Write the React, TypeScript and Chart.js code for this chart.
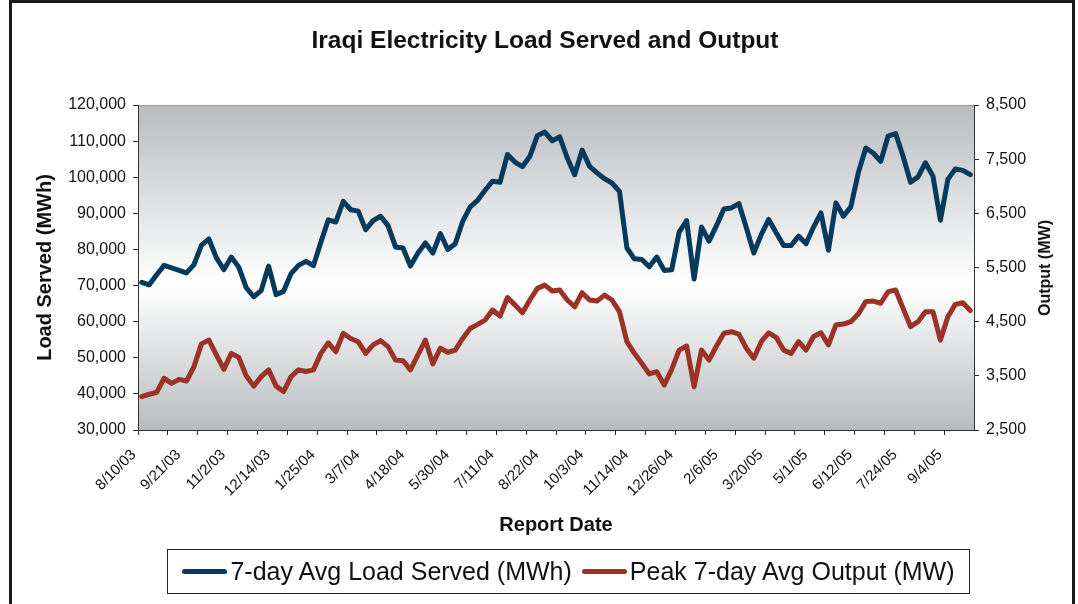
import React, { useEffect, useRef } from 'react';
import { Chart, registerables } from 'chart.js';

Chart.register(...registerables);

const FONT = "'Liberation Sans', Arial, Helvetica, sans-serif";
const BLUE = '#053a5c';
const RED = '#9c3226';

// Tick labels shown on the category axis (every 6th weekly report)
const tickLabels = [
  '8/10/03', '9/21/03', '11/2/03', '12/14/03', '1/25/04', '3/7/04', '4/18/04',
  '5/30/04', '7/11/04', '8/22/04', '10/3/04', '11/14/04', '12/26/04', '2/6/05',
  '3/20/05', '5/1/05', '6/12/05', '7/24/05', '9/4/05',
];

// 7-day Avg Load Served (MWh), weekly
const loadServed = [
  70900, 70200, 73000, 75600, 74900, 74200, 73500, 75800, 81200, 82900,
  77700, 74400, 77900, 75100, 69400, 66900, 68600, 75400, 67500, 68400,
  73300, 75600, 76700, 75500, 82000, 88200, 87600, 93300, 91000, 90600,
  85500, 88000, 89200, 86600, 80700, 80400, 75400, 79000, 81800, 79000,
  84400, 80000, 81600, 87800, 91800, 93600, 96400, 98900, 98600, 106300,
  104200, 102900, 105800, 111500, 112500, 110100, 111200, 105400, 100700, 107500,
  103000, 101200, 99600, 98400, 96100, 80400, 77400, 77200, 75200, 77900,
  74200, 74400, 84800, 88000, 71800, 86200, 82300, 86600, 91200, 91500,
  92700, 86000, 79000, 84100, 88300, 84600, 81100, 81100, 83700, 81600,
  86200, 90100, 79800, 92900, 89200, 91800, 101200, 108100, 106700, 104400,
  111400, 112100, 105800, 98600, 100100, 104000, 100300, 88100, 99400, 102300,
  101900, 100700,
];

// Peak 7-day Avg Output (MW), weekly
const peakOutput = [
  3115, 3160, 3195, 3455, 3360, 3435, 3405, 3670, 4090, 4160,
  3885, 3620, 3915, 3840, 3500, 3310, 3485, 3610, 3310, 3210,
  3485, 3610, 3580, 3610, 3915, 4110, 3945, 4285, 4190, 4130,
  3915, 4070, 4150, 4040, 3790, 3780, 3610, 3885, 4160, 3720,
  4010, 3935, 3975, 4190, 4375, 4450, 4530, 4715, 4605, 4945,
  4810, 4665, 4900, 5115, 5175, 5065, 5085, 4900, 4775, 5035,
  4900, 4880, 4990, 4900, 4685, 4130, 3915, 3730, 3535, 3575,
  3330, 3620, 3975, 4050, 3300, 3975, 3790, 4050, 4285, 4315,
  4270, 4010, 3825, 4130, 4295, 4210, 3975, 3915, 4130, 3975,
  4225, 4295, 4070, 4440, 4455, 4500, 4640, 4870, 4880, 4840,
  5055, 5085, 4745, 4410, 4500, 4685, 4685, 4160, 4590, 4820,
  4850, 4705,
];

// Weekly report dates starting 8/10/03
const START = Date.UTC(2003, 7, 10);
const reportDates = loadServed.map((_, i) => {
  const d = new Date(START + i * 7 * 86400000);
  return `${d.getUTCMonth() + 1}/${d.getUTCDate()}/${String(d.getUTCFullYear()).slice(2)}`;
});

const plotBackground = {
  id: 'plotBackground',
  beforeDraw(chart: any) {
    const { ctx, chartArea: a } = chart;
    const g = ctx.createLinearGradient(0, a.top, 0, a.bottom);
    g.addColorStop(0, '#b8bcbf');
    g.addColorStop(0.55, '#ffffff');
    g.addColorStop(1, '#b8bcbf');
    ctx.save();
    ctx.fillStyle = g;
    ctx.fillRect(a.left, a.top, a.right - a.left, a.bottom - a.top);
    ctx.strokeStyle = '#999999';
    ctx.lineWidth = 1;
    ctx.beginPath();
    ctx.moveTo(a.left, a.top + 0.5);
    ctx.lineTo(a.right, a.top + 0.5);
    ctx.stroke();
    ctx.restore();
  },
};

export default function App() {
  const canvasRef = useRef<HTMLCanvasElement | null>(null);

  useEffect(() => {
    if (!canvasRef.current) return;
    const chart = new Chart(canvasRef.current, {
      type: 'line',
      data: {
        labels: reportDates,
        datasets: [
          {
            label: '7-day Avg Load Served (MWh)',
            data: loadServed,
            yAxisID: 'y',
            borderColor: BLUE,
            backgroundColor: BLUE,
            borderWidth: 5,
            pointRadius: 0,
            tension: 0,
            borderJoinStyle: 'round',
            borderCapStyle: 'round',
          },
          {
            label: 'Peak 7-day Avg Output (MW)',
            data: peakOutput,
            yAxisID: 'y1',
            borderColor: RED,
            backgroundColor: RED,
            borderWidth: 5,
            pointRadius: 0,
            tension: 0,
            borderJoinStyle: 'round',
            borderCapStyle: 'round',
          },
        ],
      },
      options: {
        responsive: false,
        animation: false,
        devicePixelRatio: 1,
        locale: 'en-US',
        layout: { padding: { top: 105, left: 0, right: 0, bottom: 0 } },
        plugins: {
          legend: { display: false },
          title: { display: false },
          tooltip: { enabled: false },
        },
        scales: {
          x: {
            type: 'category',
            offset: true,
            grid: {
              display: true,
              drawOnChartArea: false,
              drawTicks: true,
              tickLength: 5,
              offset: true,
              tickColor: (c: any) => (c.index % 4 === 0 ? '#333333' : 'rgba(0,0,0,0)'),
            },
            border: { display: true, color: '#333333', width: 1 },
            ticks: {
              autoSkip: false,
              minRotation: 45,
              maxRotation: 45,
              padding: 11,
              labelOffset: -8,
              color: '#111111',
              font: { family: FONT, size: 15 },
              callback: (_v: any, index: number) =>
                tickLabels.includes(reportDates[index]) ? reportDates[index] : '',
            },
            title: {
              display: true,
              text: 'Report Date',
              color: '#111111',
              font: { family: FONT, size: 20, weight: 'bold' },
              padding: { top: 0, bottom: 67 },
            },
            afterFit: (s: any) => {
              s.height = 174;
            },
          },
          y: {
            position: 'left',
            min: 30000,
            max: 120000,
            ticks: {
              stepSize: 10000,
              padding: 7,
              color: '#111111',
              font: { family: FONT, size: 16 },
            },
            grid: { display: true, drawOnChartArea: false, tickLength: 5, tickColor: '#333333' },
            border: { display: true, color: '#333333', width: 1 },
            title: {
              display: true,
              text: 'Load Served (MWh)',
              color: '#111111',
              font: { family: FONT, size: 20, weight: 'bold' },
              padding: { top: 33, bottom: 0 },
            },
            afterFit: (s: any) => {
              s.width = 138;
            },
          },
          y1: {
            position: 'right',
            min: 2500,
            max: 8500,
            ticks: {
              stepSize: 1000,
              padding: 7,
              color: '#111111',
              font: { family: FONT, size: 16 },
            },
            grid: { display: true, drawOnChartArea: false, tickLength: 5, tickColor: '#333333' },
            border: { display: true, color: '#333333', width: 1 },
            afterFit: (s: any) => {
              s.width = 104;
            },
          },
        },
      } as any,
      plugins: [plotBackground],
    });
    return () => chart.destroy();
  }, []);

  const legendLine = (color: string) => (
    <span
      style={{
        display: 'inline-block',
        width: 45,
        height: 5,
        borderRadius: 3,
        background: color,
        marginRight: 3,
      }}
    />
  );

  return (
    <div
      style={{
        position: 'absolute',
        left: 0,
        top: 0,
        width: 1078,
        height: 604,
        overflow: 'hidden',
        background: '#ffffff',
        fontFamily: FONT,
        color: '#111111',
      }}
    >
      <div
        style={{
          position: 'absolute',
          left: 9,
          top: 0,
          width: 1066,
          height: 640,
          boxSizing: 'border-box',
          border: '3px solid #1a1a1a',
        }}
      />
      <canvas
        ref={canvasRef}
        width={1078}
        height={604}
        style={{ position: 'absolute', left: 0, top: 0, width: 1078, height: 604 }}
      />
      <div
        style={{
          position: 'absolute',
          left: 545,
          top: 26,
          transform: 'translateX(-50%)',
          whiteSpace: 'nowrap',
          fontSize: 24.5,
          lineHeight: '28px',
          fontWeight: 'bold',
        }}
      >
        Iraqi Electricity Load Served and Output
      </div>
      <div
        style={{
          position: 'absolute',
          left: 1045,
          top: 268,
          transform: 'translate(-50%, -50%) rotate(-90deg)',
          whiteSpace: 'nowrap',
          fontSize: 16,
          lineHeight: '20px',
          fontWeight: 'bold',
        }}
      >
        Output (MW)
      </div>
      <div
        style={{
          position: 'absolute',
          left: 167,
          top: 549,
          width: 803,
          height: 45,
          boxSizing: 'border-box',
          border: '1px solid #222222',
          display: 'flex',
          alignItems: 'center',
          justifyContent: 'center',
          fontSize: 25,
          whiteSpace: 'nowrap',
        }}
      >
        {legendLine(BLUE)}
        <span style={{ marginRight: 10 }}>7-day Avg Load Served (MWh)</span>
        {legendLine(RED)}
        <span>Peak 7-day Avg Output (MW)</span>
      </div>
    </div>
  );
}
